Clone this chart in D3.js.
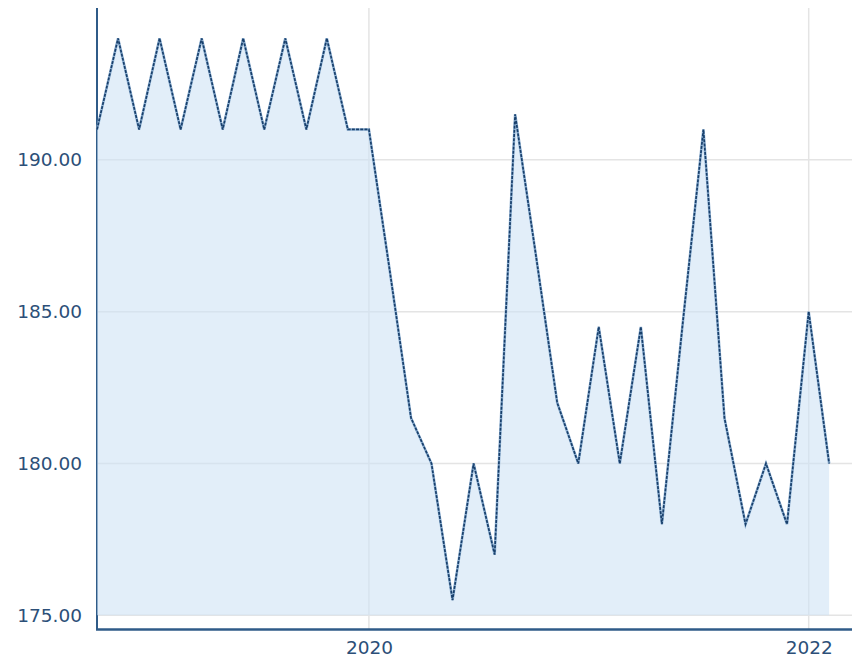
<!DOCTYPE html>
<html>
<head>
<meta charset="utf-8">
<script src="https://cdn.jsdelivr.net/npm/d3@7"></script>
<style>
  body { margin: 0; background: #fff; }
  svg text { font-family: "DejaVu Sans", Verdana, sans-serif; }
</style>
</head>
<body>
<svg id="canvas" width="854" height="661"></svg>
<script>
const dates = [
  "2018-10-06", "2018-11-10", "2018-12-15", "2019-01-18", "2019-02-22", "2019-03-29",
  "2019-05-03", "2019-06-06", "2019-07-11", "2019-08-15", "2019-09-19", "2019-10-23",
  "2019-11-27", "2020-01-01", "2020-02-05", "2020-03-11", "2020-04-14", "2020-05-19",
  "2020-06-23", "2020-07-28", "2020-08-31", "2020-10-05", "2020-11-09", "2020-12-14",
  "2021-01-17", "2021-02-21", "2021-03-28", "2021-05-02", "2021-06-05", "2021-07-10",
  "2021-08-14", "2021-09-18", "2021-10-22", "2021-11-26", "2022-01-01", "2022-02-04"
];
const values = [
  191, 194, 191, 194, 191, 194,
  191, 194, 191, 194, 191, 194,
  191, 191, 186.3, 181.5, 180, 175.5,
  180, 177, 191.5, 186.8, 182, 180,
  184.5, 180, 184.5, 178, 184.5, 191,
  181.5, 178, 180, 178, 185, 180
];
const yTicks = [175, 180, 185, 190];
const xTicks = ["2020-01-01", "2022-01-01"];
const xDomain = ["2018-10-06", "2022-03-09"];
const yDomain = [174.55, 195];

const parseDate = d3.timeParse("%Y-%m-%d");
const data = dates.map((d, i) => ({ date: parseDate(d), value: values[i] }));

const plot = { left: 97, right: 852, top: 8, bottom: 629 };
const svg = d3.select("#canvas");

const x = d3.scaleTime().domain(xDomain.map(parseDate)).range([plot.left, 849]);
const y = d3.scaleLinear().domain(yDomain).range([plot.bottom, plot.top]);

// grid
svg.append("g")
  .selectAll("line")
  .data(yTicks)
  .enter()
  .append("line")
  .attr("x1", plot.left).attr("x2", plot.right)
  .attr("y1", (d) => y(d)).attr("y2", (d) => y(d))
  .attr("stroke", "#e4e4e4").attr("stroke-width", 1.5);

svg.append("g")
  .selectAll("line")
  .data(xTicks.map(parseDate))
  .enter()
  .append("line")
  .attr("x1", (d) => x(d)).attr("x2", (d) => x(d))
  .attr("y1", plot.top).attr("y2", plot.bottom)
  .attr("stroke", "#e4e4e4").attr("stroke-width", 1.5);

// axes
const yAxis = svg.append("g")
  .attr("transform", `translate(${plot.left},0)`)
  .call(d3.axisLeft(y).tickValues(yTicks).tickSize(0).tickPadding(15).tickFormat(d3.format(".2f")));
yAxis.select(".domain").remove();
yAxis.selectAll("text").attr("fill", "#2c4f78").style("font-size", "18.5px");

const xAxis = svg.append("g")
  .attr("transform", `translate(0,${plot.bottom})`)
  .call(d3.axisBottom(x).tickValues(xTicks.map(parseDate)).tickSize(0).tickPadding(12).tickFormat(d3.timeFormat("%Y")));
xAxis.select(".domain").remove();
xAxis.selectAll("text").attr("fill", "#2c4f78").style("font-size", "18.5px");

svg.append("line")
  .attr("x1", plot.left).attr("x2", plot.left)
  .attr("y1", plot.top).attr("y2", plot.bottom + 1)
  .attr("stroke", "#2f5b88").attr("stroke-width", 2);
svg.append("line")
  .attr("x1", plot.left - 1).attr("x2", plot.right)
  .attr("y1", plot.bottom + 0.5).attr("y2", plot.bottom + 0.5)
  .attr("stroke", "#2f5b88").attr("stroke-width", 2.5);

// area + line
const area = d3.area()
  .x((d) => x(d.date))
  .y0(y(175))
  .y1((d) => y(d.value));

svg.append("path")
  .datum(data)
  .attr("d", area)
  .attr("fill", "#cfe3f5")
  .attr("fill-opacity", 0.6);

const line = d3.line()
  .x((d) => x(d.date))
  .y((d) => y(d.value));

svg.append("path")
  .datum(data)
  .attr("d", line)
  .attr("fill", "none")
  .attr("stroke", "#8fb1d3")
  .attr("stroke-width", 2.6);

svg.append("path")
  .datum(data)
  .attr("d", line)
  .attr("fill", "none")
  .attr("stroke", "#183f6b")
  .attr("stroke-width", 1.7)
  .attr("stroke-dasharray", "3,1.2");
</script>
</body>
</html>
